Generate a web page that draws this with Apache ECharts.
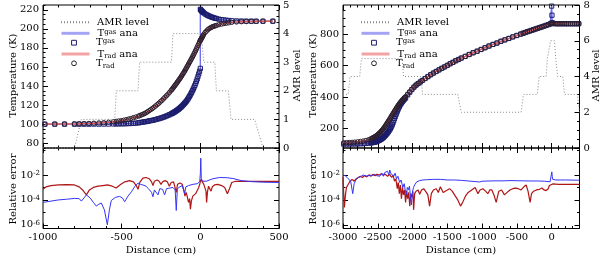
<!DOCTYPE html>
<html><head><meta charset="utf-8">
<script src="https://cdn.jsdelivr.net/npm/echarts@6/dist/echarts.min.js"></script>
<style>html,body{margin:0;padding:0;background:#fff}#c{width:600px;height:257px}</style>
</head><body><div id="c"></div>
<script>
// ---------------- DATA ----------------
// Left panel: cell positions (cm) and temperatures (K)
const leftX = [-988,-925,-863,-800,-770,-739,-708,-677,-645,-614,-583,-552,-535,-519,-503,-488,-472,-456,-441,-425,-410,-394,
 -385,-375,-365,-355,-345,-335,-325,-315,-305,-295,-285,-275,-265,-255,-245,-235,-225,-215,-205,-195,-185,
 -180,-175,-170,-165,-160,-155,-150,-145,-140,-135,-130,-125,-120,-115,-110,-105,-100,-95,-90,-85,-80,-75,-70,-65,-60,-55,-50,-45,-40,-35,-30,-25,-20,-15,-10,-5,
 0,0,2,5,8,11,14,17,22,30,38,46,54,62,70,78,86,94,102,117,133,149,164,180,199,230,261,292,324,355,398,461];
const leftTgas = [100,100,100,100,100,100,100,100.05,100.05,100.1,100.1,100.2,100.25,100.3,100.35,100.4,100.5,100.6,100.75,100.9,101.1,101.35,
 101.7,101.9,102.2,102.5,102.7,103.0,103.4,103.7,104.0,104.4,104.8,105.3,105.7,106.2,106.7,107.3,107.9,108.6,109.3,110.0,110.8,
 111.2,111.7,112.2,112.7,113.2,113.8,114.3,114.9,115.5,116.2,116.9,117.6,118.4,119.2,120.1,121.0,121.9,122.8,123.8,124.9,126.2,127.5,128.9,130.3,131.8,133.4,135.1,136.8,138.7,140.6,142.7,145.0,147.4,150.0,152.7,155.5,
 158.5,220.5,220.0,219.3,218.8,218.3,217.9,217.4,216.7,215.7,214.9,214.2,213.5,213.0,212.4,212.0,211.5,211.1,210.8,210.2,209.7,209.3,209.0,208.8,208.5,208.3,208.2,208.1,208.1,208.0,208.0,208.0];
const leftTrad = [100.0,100.1,100.2,100.3,100.5,100.6,100.75,101.0,101.3,101.6,102.0,102.5,102.9,103.3,103.6,104.1,104.7,105.3,106.0,106.8,107.5,108.4,
 109.0,109.7,110.4,111.1,112.0,113.1,114.2,115.3,116.4,117.7,119.0,120.4,121.8,123.3,124.8,126.5,128.2,129.9,131.6,133.5,135.5,
 136.5,137.6,138.7,139.8,140.9,142.0,143.1,144.3,145.4,146.6,147.8,149.0,150.3,151.6,152.9,154.2,155.6,157.0,158.5,160.0,161.5,163.0,164.5,166.0,167.5,169.0,170.6,172.2,173.8,175.5,177.2,179.0,180.8,182.6,184.4,186.2,
 188.0,188.0,188.5,189.3,190.2,191.1,192.0,192.9,194.3,196.2,197.5,198.9,200.0,200.8,201.6,202.2,202.7,203.1,203.6,204.3,204.9,205.5,205.9,206.3,206.8,207.2,207.5,207.7,207.8,207.9,208.0,208.0];
const leftAmrX = [-1000,-800,-756,-544,-534,-396,-386,-184,-174,5,22,92,102,178,195,345,398,500];
const leftAmr  = [0,0,1,1,2,2,3,3,4,4,3,3,2,2,1,1,0,0];

// Right panel
const rightX = [-2990,-2950,-2910,-2870,-2830,-2790,-2750,-2710,-2670,-2630,
 -2600,-2590,-2580,-2570,-2560,-2550,-2540,-2530,-2520,-2510,-2500,-2490,-2480,-2470,-2460,-2450,-2440,-2430,-2420,-2410,-2400,-2390,-2380,-2370,-2360,-2350,-2340,-2330,-2320,-2310,-2300,-2290,-2280,-2270,-2260,-2250,-2240,-2230,-2220,-2210,-2200,-2190,-2180,-2170,-2160,-2150,-2140,-2130,-2120,-2110,-2100,
 -2070,-2040,-2010,-1980,-1950,-1920,-1890,-1860,
 -1820,-1780,-1740,-1700,-1660,-1620,-1580,-1540,-1500,-1460,-1420,-1380,-1340,
 -1300,-1243,-1186,-1129,-1072,-1015,-958,-901,-844,-787,-730,-673,-616,-559,-502,-445,
 -410,-380,-350,-320,-290,-260,-230,-200,-170,-140,-110,-80,-50,-20,-5,
 0,0,4,10,
 30,60,90,120,150,180,210,240,270,300,330,360,390];
const rightTgas = [100,100.1,100.3,100.5,100.8,101.2,101.8,102.7,104,106,
 108,108.7,109.5,110.2,111,112,113,114.4,116,118,120,122,124,126.5,129,132,135,138.5,142,146.5,151,156,161,166.5,172,178,184,191,198,206,215,226,237,249.5,262,274,286,297.5,309,319.5,330,339,348,355,362,368,374,379.5,385,389.5,394,
 413,430,447,462,475,485,495,505,
 517,529,541,552,562,572,582,591,601,611,620,630,638,
 647,658,670,681,691,702,713,724,734,743,754,763,772,782,791,800,
 805.5,810,815,819,823.5,828,832.5,837,841.5,846,850.5,855,860,865,867.5,
 868,978,920,872,
 867,866,866,866,866,866,866,866,866,866,866,866,866];
const rightTrad = [108.2,109,109.8,111,112.4,114,116.5,119.3,123,128,
 133,135,137,139.5,142,144.5,147,150,153,156.5,160,164,168,172.5,177,182,187,192.5,198,204,210,216.5,223,230,237,244,251,258,265,272.5,280,287,294,301.5,309,316,323,330,337,343.5,350,356,362,367.5,373,378,383,388,393,397.5,402,
 418,433,449,463,475,485,495,505,
 517,529,541,552,562,572,582,591,601,611,620,630,638,
 647,658,670,681,691,702,713,724,734,743,754,763,772,782,791,800,
 805.5,810,815,819,823.5,828,832.5,837,841.5,846,850.5,855,860,865,867.5,
 868,868,868,868,
 867,866,866,866,866,866,866,866,866,866,866,866,866];
const rightAmrX = [-3000,-2925,-2900,-2760,-2735,-2150,-2130,-1880,-1855,-1350,-1300,-440,-405,-205,-180,-80,-62,-38,-15,40,58,70,86,160,185,370,400];
const rightAmr  = [3,3,4,4,5,5,4,4,3,3,2,2,3,3,4,4,5,5,6,6,5,5,4,4,3,3,2];

// Relative errors: [distance (cm), log10(relative error)]
const errRadLeft = [[-1000,-3.15],[-980,-2.95],[-950,-2.85],[-900,-2.8],[-850,-2.78],[-800,-2.8],[-770,-2.95],[-745,-3.25],[-724,-3.6],[-705,-3.2],[-680,-3.0],[-650,-2.9],[-620,-2.85],[-590,-2.8],[-560,-2.9],[-535,-3.05],[-523,-3.1],[-505,-2.75],[-480,-2.55],[-450,-2.45],[-425,-2.55],[-405,-2.9],[-396,-3.15],[-385,-2.6],[-365,-2.25],[-345,-2.2],[-325,-2.3],[-310,-2.55],[-301,-2.85],[-292,-2.5],[-275,-2.4],[-262,-2.5],[-250,-2.75],[-240,-2.55],[-225,-2.45],[-210,-2.55],[-197,-2.9],[-185,-2.6],[-170,-2.55],[-160,-2.7],[-153,-3.4],[-145,-2.75],[-130,-2.65],[-115,-2.75],[-103,-3.3],[-98,-3.7],[-90,-3.4],[-82,-3.8],[-75,-4.2],[-68,-3.9],[-63,-4.75],[-57,-4.1],[-48,-3.7],[-40,-3.8],[-30,-3.5],[-20,-3.4],[-10,-3.0],[-3,-2.7],[4,-2.35],[12,-2.5],[22,-2.75],[30,-2.6],[36,-3.3],[40,-4.2],[45,-3.4],[52,-2.9],[60,-2.95],[68,-3.3],[76,-2.95],[90,-2.8],[112,-2.75],[135,-2.85],[155,-3.0],[172,-3.5],[185,-3.1],[200,-2.6],[220,-2.52],[300,-2.52],[400,-2.52],[500,-2.52]];
const errGasLeft = [[-1000,-4.2],[-950,-4.1],[-900,-4.0],[-850,-3.95],[-800,-3.88],[-770,-3.9],[-756,-4.1],[-740,-3.85],[-724,-3.6],[-700,-3.85],[-680,-4.2],[-661,-4.5],[-645,-4.35],[-629,-4.25],[-610,-4.8],[-591,-6.0],[-578,-4.8],[-566,-4.05],[-540,-3.8],[-513,-3.72],[-495,-3.85],[-481,-4.15],[-460,-3.7],[-438,-3.35],[-415,-2.9],[-396,-2.65],[-380,-2.75],[-365,-2.8],[-345,-2.9],[-330,-3.1],[-320,-3.1],[-310,-3.4],[-301,-3.75],[-292,-3.2],[-280,-3.15],[-269,-3.6],[-258,-3.1],[-240,-3.15],[-227,-3.6],[-215,-3.1],[-195,-3.05],[-174,-3.0],[-160,-3.2],[-153,-4.85],[-146,-3.1],[-130,-2.95],[-115,-2.85],[-100,-3.5],[-92,-2.95],[-75,-2.85],[-47,-2.75],[-20,-2.7],[-4,-2.55],[0,-1.9],[3,-0.65],[6,-2.3],[15,-2.5],[38,-2.5],[80,-2.3],[123,-2.2],[170,-2.22],[207,-2.28],[260,-2.45],[320,-2.53],[400,-2.58],[500,-2.6]];
const errRadRight = [[-3000,-2.15],[-2990,-3.5],[-2980,-4.6],[-2965,-3.6],[-2950,-3.0],[-2930,-2.8],[-2900,-2.5],[-2870,-2.35],[-2840,-2.5],[-2810,-2.3],[-2780,-2.2],[-2750,-2.1],[-2720,-2.2],[-2690,-2.05],[-2660,-2.15],[-2630,-2.0],[-2600,-2.1],[-2570,-1.95],[-2540,-2.05],[-2510,-1.95],[-2480,-2.0],[-2450,-1.9],[-2420,-2.0],[-2390,-1.95],[-2360,-2.1],[-2330,-1.95],[-2300,-2.2],[-2280,-2.0],[-2260,-2.5],[-2240,-2.3],[-2220,-3.1],[-2205,-2.6],[-2190,-3.5],[-2175,-2.8],[-2160,-3.9],[-2145,-3.0],[-2130,-3.6],[-2115,-3.2],[-2100,-4.2],[-2085,-3.3],[-2070,-3.9],[-2055,-3.4],[-2040,-4.5],[-2025,-3.5],[-2010,-3.8],[-1995,-3.3],[-1985,-4.8],[-1970,-3.5],[-1950,-3.3],[-1920,-3.2],[-1898,-3.55],[-1870,-3.2],[-1840,-3.1],[-1802,-3.4],[-1780,-3.6],[-1755,-4.5],[-1730,-3.5],[-1700,-3.2],[-1659,-3.1],[-1630,-3.4],[-1600,-2.95],[-1587,-2.9],[-1560,-3.4],[-1530,-3.3],[-1500,-3.2],[-1468,-3.1],[-1430,-3.3],[-1396,-3.6],[-1350,-4.0],[-1310,-4.5],[-1280,-4.2],[-1240,-3.7],[-1200,-3.4],[-1150,-3.2],[-1100,-3.0],[-1085,-2.93],[-1060,-3.5],[-1030,-3.2],[-990,-3.1],[-950,-3.3],[-918,-3.5],[-890,-3.2],[-860,-3.2],[-830,-3.6],[-798,-4.2],[-760,-3.3],[-720,-3.2],[-679,-3.6],[-640,-3.4],[-600,-3.2],[-560,-3.1],[-520,-3.05],[-480,-3.1],[-440,-3.2],[-400,-2.95],[-367,-2.8],[-340,-3.3],[-310,-4.2],[-290,-3.5],[-260,-3.3],[-220,-3.2],[-176,-3.15],[-140,-3.05],[-110,-3.2],[-80,-3.25],[-50,-3.1],[-33,-2.85],[-10,-2.8],[14,-2.72],[100,-2.75],[200,-2.75],[400,-2.75]];
const errGasRight = [[-3000,-2.0],[-2970,-2.05],[-2940,-2.2],[-2920,-2.35],[-2890,-2.5],[-2860,-3.5],[-2840,-2.7],[-2810,-2.35],[-2780,-2.2],[-2750,-2.15],[-2711,-2.0],[-2680,-2.05],[-2650,-2.1],[-2615,-2.0],[-2580,-2.05],[-2550,-1.95],[-2520,-2.05],[-2496,-1.95],[-2470,-2.1],[-2440,-1.85],[-2420,-2.1],[-2400,-1.8],[-2380,-1.95],[-2360,-1.7],[-2340,-2.0],[-2328,-1.6],[-2310,-1.9],[-2290,-1.75],[-2270,-2.1],[-2250,-1.85],[-2230,-2.3],[-2210,-2.1],[-2185,-2.6],[-2165,-2.4],[-2140,-3.0],[-2120,-2.7],[-2100,-3.4],[-2089,-3.6],[-2075,-3.0],[-2060,-3.2],[-2045,-2.9],[-2030,-3.7],[-2017,-4.4],[-2000,-3.3],[-1985,-3.0],[-1970,-2.8],[-1940,-2.55],[-1898,-2.45],[-1850,-2.4],[-1802,-2.38],[-1700,-2.35],[-1600,-2.35],[-1500,-2.4],[-1400,-2.4],[-1300,-2.43],[-1200,-2.48],[-1100,-2.53],[-1037,-2.56],[-1000,-2.5],[-900,-2.48],[-800,-2.47],[-700,-2.47],[-600,-2.45],[-500,-2.46],[-400,-2.47],[-300,-2.48],[-200,-2.48],[-100,-2.5],[-23,-2.55],[-5,-2.5],[2,-1.75],[8,-2.1],[15,-2.35],[60,-2.4],[200,-2.4],[400,-2.42]];

// Tick values
const leftXTicks = [-1000,-500,0,500];
const rightXTicks = [-3000,-2500,-2000,-1500,-1000,-500,0];
const leftTTicks = [80,100,120,140,160,180,200,220];
const rightTTicks = [200,400,600,800];
const leftAmrTicks = [0,1,2,3,4,5];
const rightAmrTicks = [0,2,4,6,8];
const errTicks = [-6,-4,-2];

// ---------------- BUILD ----------------
const FONT = 'DejaVu Serif';
const TXT = {fontFamily: FONT, fontSize: 10, color: '#000'};
function steps(a, b, s) { const r = []; for (let v = a; v <= b + 1e-9; v += s) r.push(Math.round(v * 1000) / 1000); return r; }
const zip = (xs, ys) => xs.map((x, i) => [x, ys[i]]);

const grids = [
  {left: 43, top: 3, width: 236, height: 145},
  {left: 43, top: 148, width: 236, height: 80.5},
  {left: 343, top: 3, width: 236.5, height: 145},
  {left: 343, top: 148, width: 236.5, height: 80.5}
].map(g => Object.assign(g, {show: true, borderColor: '#000', borderWidth: 1, backgroundColor: 'transparent', containLabel: false}));

const xAxes = [], yAxes = [];
const tickLine = {color: '#000', width: 1};
function mkAxis(grid, min, max, pos, ticks, len, label) {
  const ax = {type: 'value', gridIndex: grid, min, max, position: pos,
    axisLine: {show: false, onZero: false}, splitLine: {show: false},
    axisTick: {show: true, inside: true, length: len, customValues: ticks, lineStyle: tickLine},
    axisLabel: {show: false}};
  if (label) ax.axisLabel = Object.assign({show: true, customValues: ticks, margin: 4, hideOverlap: false, showMinLabel: true, showMaxLabel: true}, TXT, label);
  return ax;
}
function addX(grid, min, max, major, minor, label) {
  const i = xAxes.length;
  xAxes.push(mkAxis(grid, min, max, 'bottom', major, 5, label));
  xAxes.push(mkAxis(grid, min, max, 'bottom', minor, 2.5));
  xAxes.push(mkAxis(grid, min, max, 'top', major, 5));
  xAxes.push(mkAxis(grid, min, max, 'top', minor, 2.5));
  return i;
}
function addY(grid, pos, min, max, major, minor, label) {
  const i = yAxes.length;
  yAxes.push(mkAxis(grid, min, max, pos, major, 5, label));
  yAxes.push(mkAxis(grid, min, max, pos, minor, 2.5));
  return i;
}
const numFmt = {formatter: v => String(v)};
const expFmt = {formatter: v => '10{s|' + v + '}', margin: 3, rich: {s: {fontFamily: FONT, fontSize: 7, verticalAlign: 'top', lineHeight: 8, padding: [0, 0, 4, 0]}}};

// left panel
const xTL = addX(0, -1000, 500, leftXTicks, steps(-1000, 500, 100), null);
const xBL = addX(1, -1000, 500, leftXTicks, steps(-1000, 500, 100), numFmt);
const yTL = addY(0, 'left', 75, 225, leftTTicks, steps(75, 225, 5), numFmt);
const yAL = addY(0, 'right', 0, 5, leftAmrTicks, steps(0, 5, 0.2), numFmt);
const yEL = addY(1, 'left', -6.3, 0.17, errTicks, steps(-6, 0, 1), expFmt);
addY(1, 'right', -6.3, 0.17, errTicks, steps(-6, 0, 1), null);
// right panel
const xTR = addX(2, -3000, 400, rightXTicks, steps(-3000, 400, 100), null);
const xBR = addX(3, -3000, 400, rightXTicks, steps(-3000, 400, 100), numFmt);
const yTR = addY(2, 'left', 75, 985, rightTTicks, steps(100, 950, 50), numFmt);
const yAR = addY(2, 'right', 0, 8, rightAmrTicks, steps(0, 8, 0.5), numFmt);
const yER = addY(3, 'left', -6.3, 0.17, errTicks, steps(-6, 0, 1), expFmt);
addY(3, 'right', -6.3, 0.17, errTicks, steps(-6, 0, 1), null);

const C = {amr: '#8a8a8a', gasAna: '#6f6fee', gasSym: '#1c1c6c', radAna: '#e05858', radSym: '#2c2030', errRad: '#b01515', errGas: '#3535f5'};

function panelSeries(xi, yT, yA, X, Tg, Tr, AX, A) {
  return [
    {type: 'line', name: 'AMR level', xAxisIndex: xi, yAxisIndex: yA, data: zip(AX, A), symbol: 'none', lineStyle: {color: C.amr, width: 1, type: [1, 2]}, z: 1},
    {type: 'line', name: 'Tgas ana', xAxisIndex: xi, yAxisIndex: yT, data: zip(X, Tg), symbol: 'none', lineStyle: {color: C.gasAna, width: 1.4}, z: 2},
    {type: 'line', name: 'Tgas', xAxisIndex: xi, yAxisIndex: yT, data: zip(X, Tg), symbol: 'rect', symbolSize: 4.2, showSymbol: true, lineStyle: {opacity: 0, width: 0}, itemStyle: {color: 'rgba(255,255,255,0)', borderColor: C.gasSym, borderWidth: 1}, z: 3},
    {type: 'line', name: 'Trad ana', xAxisIndex: xi, yAxisIndex: yT, data: zip(X, Tr), symbol: 'none', lineStyle: {color: C.radAna, width: 1.4}, z: 4},
    {type: 'line', name: 'Trad', xAxisIndex: xi, yAxisIndex: yT, data: zip(X, Tr), symbol: 'circle', symbolSize: 4.4, showSymbol: true, lineStyle: {opacity: 0, width: 0}, itemStyle: {color: 'rgba(255,255,255,0)', borderColor: C.radSym, borderWidth: 1}, z: 5}
  ];
}
function errSeries(xi, yi, rad, gas) {
  return [
    {type: 'line', name: 'err rad', xAxisIndex: xi, yAxisIndex: yi, data: rad, symbol: 'none', lineStyle: {color: C.errRad, width: 1.2}},
    {type: 'line', name: 'err gas', xAxisIndex: xi, yAxisIndex: yi, data: gas, symbol: 'none', lineStyle: {color: C.errGas, width: 1}}
  ];
}
const series = [].concat(
  panelSeries(xTL, yTL, yAL, leftX, leftTgas, leftTrad, leftAmrX, leftAmr),
  errSeries(xBL, yEL, errRadLeft, errGasLeft),
  panelSeries(xTR, yTR, yAR, rightX, rightTgas, rightTrad, rightAmrX, rightAmr),
  errSeries(xBR, yER, errRadRight, errGasRight)
);
series.forEach(s => { s.animation = false; s.silent = true; });

const legendText = {'AMR level': 'AMR level', 'Tgas ana': 'T{g|gas} ana', 'Tgas': 'T{g|gas}', 'Trad ana': 'T{r|rad} ana', 'Trad': 'T{r|rad}'};
const legendItems = [
  {name: 'AMR level', itemStyle: {opacity: 0}},
  {name: 'Tgas ana', itemStyle: {opacity: 0}, lineStyle: {width: 3, color: '#a4a4f4'}},
  {name: 'Tgas', itemStyle: {borderWidth: 1}},
  {name: 'Trad ana', itemStyle: {opacity: 0}, lineStyle: {width: 3, color: '#f2a2a2'}},
  {name: 'Trad', itemStyle: {borderWidth: 1}}
];
const legendRowsY = [22.3, 33.3, 42.7, 54, 63.3];
const legends = [];
[60, 360].forEach(lx => {
  legendItems.forEach((it, k) => {
    legends.push({
      show: true, data: [it], left: lx, top: legendRowsY[k] - 6, orient: 'vertical', padding: 0,
      itemWidth: 28, itemHeight: 6, selectedMode: false,
      formatter: n => legendText[n],
      textStyle: Object.assign({}, TXT, {lineHeight: 12, padding: [0, 0, 0, 3], rich: {
        g: {fontFamily: FONT, fontSize: 7, verticalAlign: 'middle', lineHeight: 12, padding: [0, 0, 3, 0]},
        r: {fontFamily: FONT, fontSize: 7, verticalAlign: 'bottom', lineHeight: 8}
      }})
    });
  });
});

function vtext(x, y, t) {
  return {type: 'text', x, y, rotation: Math.PI / 2, silent: true,
    style: {text: t, fill: '#000', font: '10px "DejaVu Serif"', align: 'center', verticalAlign: 'middle', textAlign: 'center', textVerticalAlign: 'middle'}};
}
function htext(x, y, t) {
  return {type: 'text', x, y, silent: true,
    style: {text: t, fill: '#000', font: '10px "DejaVu Serif"', align: 'center', verticalAlign: 'middle', textAlign: 'center', textVerticalAlign: 'middle'}};
}
const graphic = [
  vtext(13, 75.5, 'Temperature (K)'), vtext(13, 189, 'Relative error'), vtext(297, 75.5, 'AMR level'),
  vtext(313, 75.5, 'Temperature (K)'), vtext(313, 189, 'Relative error'), vtext(596, 75.5, 'AMR level'),
  htext(161, 250, 'Distance (cm)'), htext(461, 250, 'Distance (cm)')
];

const chart = echarts.init(document.getElementById('c'), null, {renderer: 'canvas'});
chart.setOption({animation: false, backgroundColor: '#fff', grid: grids, xAxis: xAxes, yAxis: yAxes, series, legend: legends, graphic});
</script></body></html>
